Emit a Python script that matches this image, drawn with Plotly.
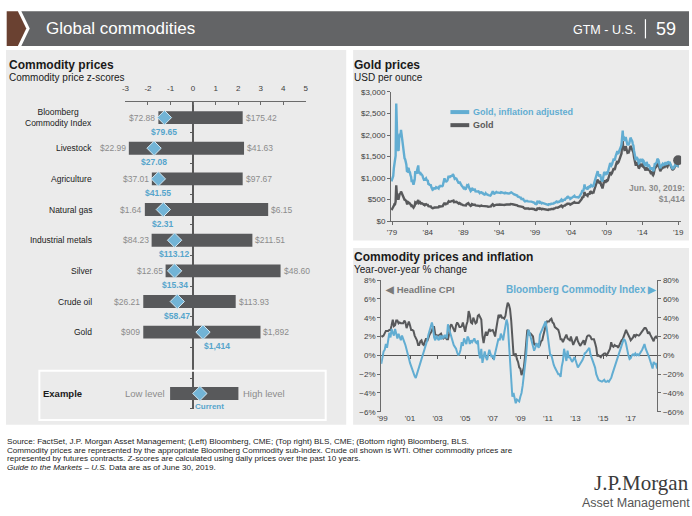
import pandas as pd
import plotly.graph_objects as go

W, H = 692, 516


def px(x):
    return x / W


def py(y):
    return 1 - y / H


SANS = "Liberation Sans, Arial, sans-serif"
SERIF = "Liberation Serif, Times New Roman, serif"

PANEL = "#ebebeb"
BAR = "#58595b"
BLUE = "#62add2"
DARK = "#58595b"
LABEL_GRAY = "#8b8b8b"
LABEL_BLUE = "#56a5cc"
TEXT = "#1a1a1a"
TICK = "#404040"
AXIS = "#6b6b6b"

# ---------------- Commodity price z-scores ----------------
categories = ["Bloomberg<br>Commodity Index", "Livestock", "Agriculture", "Natural gas",
              "Industrial metals", "Silver", "Crude oil", "Gold"]
z_low = [-1.54, -2.85, -1.83, -2.14, -1.84, -1.22, -2.21, -2.21]
z_high = [2.20, 2.26, 2.20, 3.33, 2.63, 3.88, 1.89, 2.99]
z_current = [-1.27, -1.73, -1.54, -1.32, -0.82, -0.82, -0.70, 0.44]
price_low = ["$72.88", "$22.99", "$37.01", "$1.64", "$84.23", "$12.65", "$26.21", "$909"]
price_high = ["$175.42", "$41.63", "$97.67", "$6.15", "$211.51", "$48.60", "$113.93", "$1,892"]
price_current = ["$79.65", "$27.08", "$41.55", "$2.31", "$113.12", "$15.34", "$58.47", "$1,414"]
example_low, example_high, example_current = -1.02, 2.01, 0.30
z_ticks = [-3, -2, -1, 0, 1, 2, 3, 4, 5]

# ---------------- Gold prices (monthly, May 1979 - Jun 2019) ----------------
gold_nominal = [
    257, 279, 295, 301, 355, 392, 392, 456,
    830, 640, 560, 520, 520, 620, 650, 630, 690, 660, 620, 590,
    557, 500, 499, 495, 480, 460, 409, 410, 443, 437, 413, 410,
    384, 374, 330, 350, 333, 315, 339, 364, 436, 423, 415, 445,
    480, 490, 420, 430, 438, 412, 422, 416, 411, 393, 382, 388,
    370, 386, 394, 381, 377, 377, 348, 348, 341, 340, 341, 320,
    303, 299, 304, 324, 316, 317, 317, 330, 323, 326, 325, 322,
    345, 338, 346, 340, 342, 343, 348, 376, 418, 423, 398, 391,
    408, 401, 409, 438, 460, 450, 450, 460, 460, 465, 467, 486,
    477, 443, 444, 452, 451, 451, 437, 431, 413, 406, 420, 419,
    404, 388, 390, 384, 371, 367, 375, 365, 362, 366, 394, 409,
    410, 417, 393, 374, 369, 352, 362, 395, 389, 380, 381, 378,
    383, 364, 363, 358, 357, 367, 368, 356, 348, 359, 360, 361,
    354, 354, 345, 338, 337, 341, 353, 343, 345, 344, 335, 334,
    329, 329, 330, 342, 367, 372, 392, 378, 355, 364, 373, 383,
    387, 382, 384, 377, 381, 385, 386, 380, 391, 389, 384, 379,
    379, 376, 382, 391, 385, 387, 386, 383, 383, 383, 386, 387,
    400, 405, 396, 393, 392, 385, 383, 387, 383, 381, 378, 369,
    355, 346, 352, 344, 344, 341, 324, 324, 323, 325, 306, 289,
    289, 297, 296, 308, 299, 292, 293, 284, 289, 296, 294, 291,
    287, 287, 286, 282, 277, 262, 256, 257, 265, 311, 293, 283,
    284, 300, 286, 280, 275, 285, 282, 274, 273, 270, 266, 272,
    265, 262, 263, 261, 272, 270, 268, 273, 283, 283, 276, 275,
    282, 295, 294, 303, 314, 322, 314, 310, 319, 317, 319, 333,
    357, 359, 340, 328, 355, 356, 351, 359, 379, 379, 389, 407,
    414, 405, 406, 404, 384, 392, 398, 400, 406, 420, 439, 442,
    424, 423, 434, 428, 422, 430, 424, 438, 456, 469, 476, 510,
    549, 555, 557, 610, 676, 596, 633, 632, 598, 585, 627, 629,
    631, 665, 655, 679, 666, 655, 665, 665, 712, 754, 806, 803,
    889, 922, 968, 909, 888, 889, 939, 839, 829, 806, 760, 816,
    858, 943, 924, 890, 928, 946, 934, 949, 996, 1043, 1127, 1134,
    1117, 1095, 1113, 1148, 1205, 1232, 1193, 1215, 1271, 1343, 1370, 1391,
    1356, 1372, 1424, 1473, 1512, 1529, 1572, 1800, 1860, 1665, 1739, 1652,
    1656, 1743, 1675, 1649, 1589, 1596, 1594, 1630, 1744, 1747, 1721, 1688,
    1670, 1627, 1593, 1487, 1414, 1343, 1287, 1348, 1349, 1316, 1275, 1222,
    1244, 1300, 1336, 1299, 1288, 1279, 1311, 1296, 1239, 1223, 1176, 1201,
    1250, 1227, 1178, 1198, 1199, 1181, 1129, 1118, 1125, 1157, 1086, 1068,
    1097, 1200, 1246, 1242, 1260, 1276, 1337, 1341, 1326, 1267, 1238, 1157,
    1192, 1234, 1231, 1266, 1246, 1260, 1237, 1283, 1314, 1279, 1282, 1265,
    1331, 1331, 1325, 1335, 1303, 1282, 1238, 1202, 1198, 1215, 1221, 1250,
    1291, 1320, 1300, 1285, 1284, 1414,
]
gold_real = [
    925, 993, 1038, 1050, 1225, 1341, 1325, 1523,
    2731, 2080, 1798, 1654, 1638, 1934, 2028, 1947, 2118, 2013, 1872, 1764,
    1649, 1470, 1457, 1436, 1382, 1316, 1162, 1152, 1232, 1215, 1144, 1136,
    1060, 1029, 908, 959, 902, 844, 905, 968, 1160, 1121, 1100, 1184,
    1272, 1294, 1109, 1127, 1143, 1071, 1093, 1077, 1060, 1010, 978, 993,
    940, 977, 993, 956, 943, 939, 863, 860, 839, 833, 835, 784,
    739, 727, 736, 781, 758, 761, 758, 789, 769, 776, 770, 760,
    814, 801, 820, 809, 811, 809, 821, 887, 982, 994, 935, 915,
    951, 930, 945, 1007, 1053, 1026, 1026, 1044, 1040, 1046, 1051, 1094,
    1068, 988, 986, 999, 992, 988, 953, 935, 892, 873, 903, 901,
    861, 823, 823, 806, 772, 763, 776, 756, 746, 750, 808, 834,
    828, 838, 786, 744, 734, 697, 713, 770, 755, 730, 732, 726,
    732, 692, 690, 677, 675, 690, 692, 666, 651, 668, 670, 671,
    655, 655, 635, 622, 617, 624, 646, 624, 628, 623, 606, 605,
    592, 589, 591, 609, 653, 658, 694, 669, 625, 641, 656, 674,
    677, 669, 668, 656, 663, 666, 668, 654, 673, 669, 657, 648,
    644, 639, 646, 661, 647, 650, 648, 640, 640, 640, 645, 646,
    664, 668, 649, 645, 639, 628, 624, 627, 620, 613, 609, 594,
    568, 554, 563, 550, 550, 546, 515, 515, 514, 514, 483, 460,
    457, 469, 468, 484, 469, 458, 460, 446, 451, 462, 459, 454,
    448, 445, 443, 434, 427, 403, 392, 393, 403, 473, 445, 430,
    429, 450, 426, 417, 410, 422, 417, 406, 401, 397, 391, 400,
    387, 380, 381, 376, 392, 389, 386, 393, 405, 408, 397, 399,
    406, 425, 420, 430, 446, 457, 446, 437, 450, 447, 450, 470,
    500, 499, 469, 453, 493, 495, 488, 495, 523, 523, 537, 562,
    567, 551, 548, 545, 515, 525, 533, 536, 544, 559, 584, 588,
    564, 558, 569, 561, 553, 559, 551, 565, 584, 600, 614, 658,
    703, 710, 707, 769, 852, 751, 791, 790, 753, 737, 790, 793,
    789, 831, 812, 835, 819, 806, 818, 818, 876, 920, 983, 980,
    1076, 1116, 1162, 1082, 1048, 1040, 1089, 982, 970, 951, 920, 1004,
    1047, 1141, 1118, 1068, 1114, 1126, 1111, 1129, 1185, 1241, 1341, 1349,
    1318, 1292, 1313, 1355, 1422, 1454, 1408, 1434, 1500, 1571, 1603, 1627,
    1573, 1578, 1623, 1679, 1709, 1728, 1776, 2034, 2102, 1881, 1965, 1883,
    1871, 1952, 1876, 1830, 1764, 1788, 1785, 1809, 1936, 1939, 1910, 1891,
    1854, 1790, 1752, 1636, 1555, 1477, 1416, 1469, 1470, 1448, 1403, 1344,
    1356, 1417, 1443, 1403, 1391, 1381, 1416, 1400, 1338, 1321, 1282, 1309,
    1375, 1337, 1284, 1294, 1295, 1275, 1219, 1207, 1215, 1250, 1173, 1164,
    1185, 1296, 1346, 1329, 1348, 1365, 1431, 1435, 1419, 1343, 1312, 1226,
    1264, 1296, 1293, 1329, 1308, 1323, 1299, 1347, 1367, 1330, 1333, 1316,
    1384, 1371, 1365, 1362, 1329, 1308, 1263, 1226, 1222, 1239, 1245, 1275,
    1304, 1333, 1300, 1285, 1284, 1414,
]
gold_tick_years = [1979, 1984, 1989, 1994, 1999, 2004, 2009, 2014, 2019]
gold_y_ticks = [0, 500, 1000, 1500, 2000, 2500, 3000]

# ---------------- Commodity prices and inflation (monthly, May 1999 - May 2019) ----------------
cpi_yoy = [
    2.1, 2.0, 2.1, 2.3, 2.6, 2.6, 2.6, 2.7,
    2.7, 3.2, 3.8, 3.1, 3.2, 3.7, 3.7, 3.4, 3.5, 3.4, 3.4, 3.4,
    3.7, 3.5, 2.9, 3.3, 3.6, 3.2, 2.7, 2.7, 2.6, 2.1, 1.9, 1.6,
    1.1, 1.1, 1.5, 1.6, 1.2, 1.1, 1.5, 1.8, 1.5, 2.0, 2.2, 2.4,
    2.6, 3.0, 3.0, 2.2, 2.1, 2.1, 2.1, 2.2, 2.3, 2.0, 1.8, 1.9,
    1.9, 1.7, 1.7, 2.3, 3.1, 3.3, 3.0, 2.7, 2.5, 3.2, 3.5, 3.3,
    3.0, 3.0, 3.1, 3.5, 2.8, 2.5, 3.2, 3.6, 4.7, 4.3, 3.5, 3.4,
    4.0, 3.6, 3.4, 3.5, 4.2, 4.3, 4.1, 3.8, 2.1, 1.3, 2.0, 2.5,
    2.1, 2.4, 2.8, 2.6, 2.7, 2.7, 2.4, 2.0, 2.8, 3.5, 4.3, 4.1,
    4.3, 4.0, 4.0, 3.9, 4.2, 5.0, 5.6, 5.4, 4.9, 3.7, 1.1, 0.1,
    0.0, 0.2, -0.4, -0.7, -1.3, -1.4, -2.1, -1.5, -1.3, -0.2, 1.8, 2.7,
    2.6, 2.1, 2.3, 2.2, 2.0, 1.1, 1.2, 1.1, 1.1, 1.2, 1.1, 1.5,
    1.6, 2.1, 2.7, 3.2, 3.6, 3.6, 3.6, 3.8, 3.9, 3.5, 3.4, 3.0,
    2.9, 2.9, 2.7, 2.3, 1.7, 1.7, 1.4, 1.7, 2.0, 2.2, 1.8, 1.7,
    1.6, 2.0, 1.5, 1.1, 1.4, 1.8, 2.0, 1.5, 1.2, 1.0, 1.2, 1.5,
    1.6, 1.1, 1.5, 2.0, 2.1, 2.1, 2.0, 1.7, 1.7, 1.7, 1.3, 0.8,
    -0.1, 0.0, -0.1, -0.2, 0.0, 0.1, 0.2, 0.2, 0.0, 0.2, 0.5, 0.7,
    1.4, 1.0, 0.9, 1.1, 1.0, 1.0, 0.8, 1.1, 1.5, 1.6, 1.7, 2.1,
    2.5, 2.7, 2.4, 2.2, 1.9, 1.6, 1.7, 1.9, 2.2, 2.0, 2.2, 2.1,
    2.1, 2.2, 2.4, 2.5, 2.8, 2.9, 2.9, 2.7, 2.3, 2.5, 2.2, 1.9,
    1.6, 1.5, 1.9, 2.0, 1.8,
]
bcom_yoy = [
    -9, -2, 4, 6, 12, 8, 18, 24,
    19, 28, 24, 21, 28, 22, 18, 23, 20, 16, 21, 16,
    14, 11, 7, 2, -3, -8, -12, -16, -20, -22, -24, -20,
    -14, -12, -8, -3, 0, 4, 7, 12, 16, 22, 26, 30,
    35, 30, 19, 16, 21, 18, 16, 21, 17, 21, 18, 21,
    21, 18, 33, 28, 23, 18, 14, 11, 9, 7, 3, 0,
    2, 6, 14, 10, 18, 15, 12, 20, 18, 12, 16, 14,
    16, 18, 14, 13, 16, 2, -3, 7, -8, -3, 4, -2,
    -5, 0, 6, 2, -2, 0, -5, 2, 8, 13, 18, 16,
    23, 20, 16, 24, 30, 38, 33, 10, -8, -30, -44, -40,
    -47, -51, -47, -48, -49, -44, -40, -32, -23, -10, 0, 18,
    27, 24, 19, 12, 8, 5, 8, 13, 10, 8, 22, 25,
    28, 31, 34, 36, 28, 19, 10, 0, 0, -6, -10, -13,
    -15, -17, -20, -20, -23, -12, -6, 7, 2, -6, 5, -2,
    -2, -5, -7, -5, -2, -5, -9, -13, -11, -9, -8, -5,
    -2, 2, 3, 5, 6, 8, 1, -3, -6, -10, -13, -20,
    -24, -26, -27, -28, -28, -27, -26, -28, -28, -27, -28, -26,
    -24, -20, -16, -13, -9, -5, -2, 4, 8, 12, 14, 17,
    16, 12, 5, 0, -4, -3, 0, 1, 0, 2, 0, 1,
    0, 2, 3, 6, 9, 12, 7, 3, 1, -2, -6, -9,
    -14, -7, -9, -9, -14,
]
cpi_tick_years = [1999, 2001, 2003, 2005, 2007, 2009, 2011, 2013, 2015, 2017]
cpi_left_range = [-6, 8]
cpi_right_range = [-60, 80]

assert len(gold_nominal) == len(gold_real)
assert len(cpi_yoy) == len(bcom_yoy)

gold_dates = pd.date_range("1979-05-31", periods=len(gold_real), freq="ME")
cpi_dates = pd.date_range("1999-05-31", periods=len(cpi_yoy), freq="ME")

fig = go.Figure()

# ---- z-score bars, including the example row two slots below the last category ----
rows = list(range(len(categories)))
example_row = len(categories) + 1
bar_low = z_low + [example_low]
bar_high = z_high + [example_high]
bar_cur = z_current + [example_current]
bar_rows = rows + [example_row]

fig.add_trace(go.Bar(
    x=[h - l for l, h in zip(bar_low, bar_high)], base=bar_low, y=bar_rows,
    orientation="h", width=0.42, marker=dict(color=BAR, line=dict(width=0)),
    xaxis="x", yaxis="y", hoverinfo="skip",
))
fig.add_trace(go.Scatter(
    x=bar_cur, y=bar_rows, mode="markers",
    marker=dict(symbol="diamond", size=11, color="#72b4d6", line=dict(color="#d3e8f3", width=1)),
    xaxis="x", yaxis="y", hoverinfo="skip",
))

# ---- gold lines ----
fig.add_trace(go.Scatter(x=gold_dates, y=gold_nominal, mode="lines",
                         line=dict(color=DARK, width=2.4), xaxis="x2", yaxis="y2", hoverinfo="skip"))
fig.add_trace(go.Scatter(x=gold_dates, y=gold_real, mode="lines",
                         line=dict(color=BLUE, width=2.4), xaxis="x2", yaxis="y2", hoverinfo="skip"))
fig.add_trace(go.Scatter(x=[gold_dates[-1]], y=[gold_nominal[-1]], mode="markers",
                         marker=dict(size=10, color="#58595b"), xaxis="x2", yaxis="y2", hoverinfo="skip"))

# ---- CPI vs commodity index ----
fig.add_trace(go.Scatter(x=cpi_dates, y=cpi_yoy, mode="lines",
                         line=dict(color=DARK, width=2), xaxis="x3", yaxis="y3", hoverinfo="skip"))
fig.add_trace(go.Scatter(x=cpi_dates, y=bcom_yoy, mode="lines",
                         line=dict(color=BLUE, width=2), xaxis="x4", yaxis="y4", hoverinfo="skip"))

shapes = []
annotations = []
PAD = 3  # annotation boxes carry a few pixels of inner padding


def note(text, x, y, xref="paper", yref="paper", size=8, color=TEXT, family=SANS,
         xanchor="left", yanchor="middle", align="left", xshift=0, **kw):
    if xanchor == "left":
        xshift -= PAD
    elif xanchor == "right":
        xshift += PAD
    annotations.append(dict(text=text, x=x, y=y, xref=xref, yref=yref, showarrow=False,
                            font=dict(size=size, color=color, family=family),
                            xanchor=xanchor, yanchor=yanchor, align=align, xshift=xshift, **kw))


def rect(x0, y0, x1, y1, **kw):
    shapes.append(dict(type="rect", xref="paper", yref="paper",
                       x0=px(x0), x1=px(x1), y0=py(y1), y1=py(y0), **kw))


# panels
rect(2, 46.7, 345.7, 428.3, fillcolor=PANEL, line=dict(width=0), layer="below")
rect(352.7, 46.7, 692, 240.7, fillcolor=PANEL, line=dict(width=0), layer="below")
rect(352.7, 248.3, 692, 428.3, fillcolor=PANEL, line=dict(width=0), layer="below")

# header band with chevron
shapes.append(dict(type="path", xref="paper", yref="paper",
                   path=f"M {px(2.7)},{py(7.3)} L {px(14)},{py(7.3)} L {px(22.5)},{py(25)} "
                        f"L {px(14)},{py(42.7)} L {px(2.7)},{py(42.7)} Z",
                   fillcolor="#6a4131", line=dict(width=0), layer="below"))
shapes.append(dict(type="path", xref="paper", yref="paper",
                   path=f"M {px(17.5)},{py(7.3)} L 1,{py(7.3)} L 1,{py(42.7)} "
                        f"L {px(17.5)},{py(42.7)} L {px(26)},{py(25)} Z",
                   fillcolor="#636466", line=dict(width=0), layer="below"))
shapes.append(dict(type="line", xref="paper", yref="paper", x0=px(648), x1=px(648),
                   y0=py(15.5), y1=py(35), line=dict(color="white", width=1.2)))
note("Global commodities", px(43), py(25), size=17, color="white")
note("GTM - U.S.", px(637), py(26), size=12.5, color="white", xanchor="right")
note("59", px(660), py(25), size=18, color="white")

# ---- left panel text ----
note("<b>Commodity prices</b>", px(6), py(61.7), size=12)
note("Commodity price z-scores", px(6), py(74.3), size=10)

for i, r in enumerate(rows):
    note(categories[i], px(87.5), r, yref="y", size=8.5, xanchor="right", align="center")
    note(price_low[i], z_low[i], r, xref="x", yref="y", size=8.5, color=LABEL_GRAY,
         xanchor="right", xshift=-4)
    note(price_high[i], z_high[i], r, xref="x", yref="y", size=8.5, color=LABEL_GRAY,
         xanchor="left", xshift=4)
    if z_current[i] > 0:
        note(f"<b>{price_current[i]}</b>", z_current[i], r, xref="x", yref="y", size=8.5,
             color=LABEL_BLUE, xanchor="left", xshift=2, yshift=-14)
    else:
        note(f"<b>{price_current[i]}</b>", z_current[i], r, xref="x", yref="y", size=8.5,
             color=LABEL_BLUE, xanchor="center", yshift=-14)

# example legend row
rect(35.7, 373.3, 325, 423.3, line=dict(color="white", width=2))
note("<b>Example</b>", px(40.5), example_row, yref="y", size=9.5)
note("Low level", example_low, example_row, xref="x", yref="y", size=9.5, color=LABEL_GRAY,
     xanchor="right", xshift=-6)
note("High level", example_high, example_row, xref="x", yref="y", size=9.5, color=LABEL_GRAY,
     xanchor="left", xshift=6)
note("<b>Current</b>", example_current, example_row, xref="x", yref="y", size=8,
     color=LABEL_BLUE, xanchor="left", xshift=-4, yshift=-13.5)

# ---- gold panel text ----
note("<b>Gold prices</b>", px(354.2), py(61.7), size=12)
note("USD per ounce", px(354.2), py(74.3), size=10)
shapes.append(dict(type="line", xref="paper", yref="paper", x0=px(451), x1=px(470),
                   y0=py(110), y1=py(110), line=dict(color=BLUE, width=4)))
shapes.append(dict(type="line", xref="paper", yref="paper", x0=px(451), x1=px(470),
                   y0=py(123.3), y1=py(123.3), line=dict(color=DARK, width=4)))
note("<b>Gold, inflation adjusted</b>", px(475), py(110), size=9, color=BLUE)
note("<b>Gold</b>", px(475), py(123.3), size=9, color="#5a5a5a")
note(f"<b>Jun. 30, 2019:<br>${gold_nominal[-1]:,}</b>", gold_dates[-1], gold_nominal[-1],
     xref="x2", yref="y2", size=8.5, color=LABEL_GRAY, xanchor="right", yanchor="top",
     align="right", xshift=6, yshift=-21)

# ---- inflation panel text ----
note("<b>Commodity prices and inflation</b>", px(354.2), py(257.7), size=12)
note("Year-over-year % change", px(354.2), py(270.3), size=10)
note("<b>◀ Headline CPI</b>", px(386), py(290.7), size=9.5, color="#7a7a7a")
note("<b>Bloomberg Commodity Index ▶</b>", px(659), py(290.7), size=10, color=BLUE,
     xanchor="right")

# ---- footnotes and logo ----
foot = [
    "Source: FactSet, J.P. Morgan Asset Management; (Left) Bloomberg, CME; (Top right) BLS, CME; (Bottom right) Bloomberg, BLS.",
    "Commodity prices are represented by the appropriate Bloomberg Commodity sub-index. Crude oil shown is WTI. Other commodity prices are",
    "represented by futures contracts. Z-scores are calculated using daily prices over the past 10 years.",
    "<i>Guide to the Markets – U.S.</i> Data are as of June 30, 2019.",
]
for k, line in enumerate(foot):
    note(line, px(4), py(445 + 9 * k), size=8.1, color="#222222")
note("J.P.Morgan", px(691), py(488), size=21, color="#3b3b3b", family=SERIF, xanchor="right")
note("Asset Management", px(692), py(507.5), size=12.5, color="#555555", xanchor="right")

# ---- axes geometry ----
cpi_top, cpi_bottom = 281, 415
cpi_zero_px = cpi_top + (cpi_left_range[1] - 0) / (cpi_left_range[1] - cpi_left_range[0]) * (cpi_bottom - cpi_top)
cpi_range = ["1999-05-28", "2019-06-05"]
tickfont = dict(size=8, color=TICK, family=SANS)

fig.update_layout(
    width=W, height=H, margin=dict(l=0, r=0, t=0, b=0),
    paper_bgcolor="white", plot_bgcolor="rgba(0,0,0,0)",
    showlegend=False, shapes=shapes, annotations=annotations,
    font=dict(family=SANS, color=TEXT),
    xaxis=dict(domain=[px(122.7), px(304.9)], range=[z_ticks[0], z_ticks[-1]], side="top", anchor="y",
               tickvals=z_ticks, ticktext=[str(t) for t in z_ticks],
               showline=True, linecolor=AXIS, linewidth=1,
               ticks="inside", ticklen=3, tickcolor=AXIS, tickfont=tickfont, ticklabelstandoff=7,
               showgrid=False, zeroline=True, zerolinecolor="#5a5a5a", zerolinewidth=1.5,
               fixedrange=True),
    yaxis=dict(domain=[py(412), py(100)], range=[example_row + 0.5, -0.5], anchor="free",
               position=px(190.95), tickvals=[r + 0.5 for r in range(example_row + 1)],
               ticks="outside", ticklen=3, tickcolor="#5a5a5a", showticklabels=False,
               showline=False, showgrid=False, zeroline=False, fixedrange=True),
    xaxis2=dict(domain=[px(391), px(684)], anchor="y2", type="date",
                range=["1979-05-11", "2019-11-28"],
                tickvals=[f"{y}-07-01" for y in gold_tick_years],
                ticktext=[f"'{str(y)[2:]}" for y in gold_tick_years],
                showline=True, linecolor=AXIS, ticks="outside", ticklen=3, tickcolor=AXIS,
                tickfont=tickfont, showgrid=False, zeroline=False),
    yaxis2=dict(domain=[py(221), py(89.5)], anchor="x2", range=[gold_y_ticks[0], gold_y_ticks[-1]],
                tickvals=gold_y_ticks, ticktext=[f"${v:,}" for v in gold_y_ticks],
                showline=True, linecolor=AXIS, ticks="outside", ticklen=3, tickcolor=AXIS,
                tickfont=tickfont, showgrid=False, zeroline=False),
    xaxis3=dict(domain=[px(381), px(660)], anchor="free", position=py(cpi_zero_px), type="date",
                range=cpi_range, tickvals=[f"{y}-07-01" for y in cpi_tick_years],
                showticklabels=False, ticks="outside", ticklen=3, tickcolor="#555555",
                showline=True, linecolor="#555555", linewidth=1, layer="below traces",
                showgrid=False, zeroline=False),
    xaxis4=dict(overlaying="x3", anchor="y3", side="bottom", type="date", range=cpi_range,
                tickvals=[f"{y}-07-01" for y in cpi_tick_years],
                ticktext=[f"'{str(y)[2:]}" for y in cpi_tick_years],
                ticks="", showline=False, tickfont=tickfont, showgrid=False, zeroline=False),
    yaxis3=dict(domain=[py(cpi_bottom), py(cpi_top)], anchor="x3", range=cpi_left_range, dtick=2,
                ticksuffix="%", showline=True, linecolor=AXIS, ticks="outside", ticklen=3,
                tickcolor=AXIS, tickfont=tickfont, showgrid=False, zeroline=False),
    yaxis4=dict(overlaying="y3", anchor="x4", side="right", range=cpi_right_range, dtick=20,
                ticksuffix="%", showline=True, linecolor=AXIS, ticks="outside", ticklen=3,
                tickcolor=AXIS, tickfont=tickfont, showgrid=False, zeroline=False),
)

fig.write_html("out.html", config={"displayModeBar": False})
